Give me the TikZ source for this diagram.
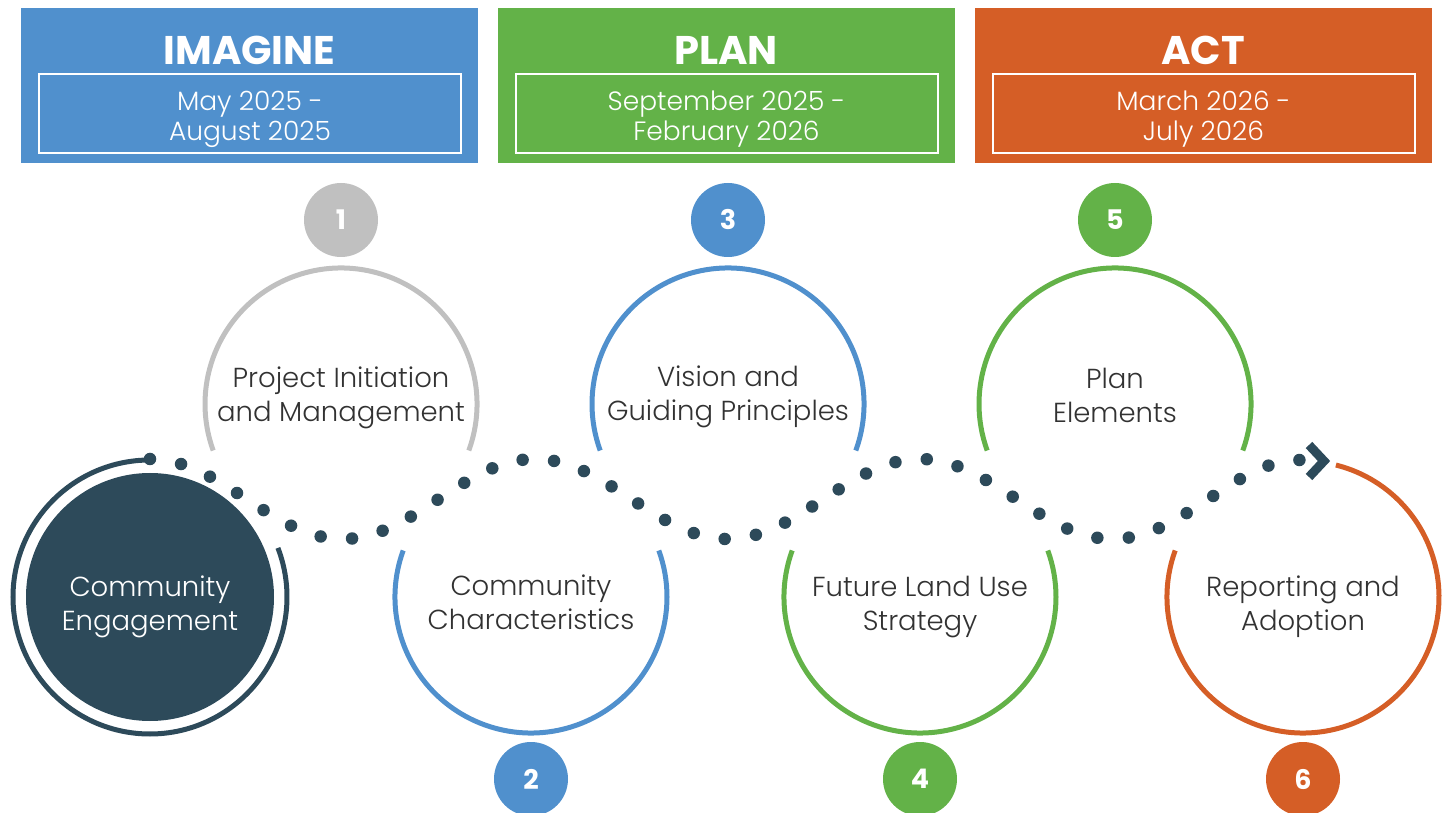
\documentclass[tikz,border=0pt]{standalone}
\usepackage{fontspec}
\setmainfont{Poppins}
\newfontfamily\lightfont{Poppins Light}
\definecolor{imagineblue}{RGB}{80,144,205}
\definecolor{plangreen}{RGB}{99,178,72}
\definecolor{actorange}{RGB}{213,94,38}
\definecolor{stepgray}{RGB}{192,192,192}
\definecolor{navy}{RGB}{45,74,90}
\definecolor{labelgray}{RGB}{50,50,50}
\tikzset{
  phasebox/.style={fill=#1, minimum width=457pt, minimum height=155pt, inner sep=0pt},
  phasetitle/.style={text=white, font=\bfseries\fontsize{40}{40}\selectfont},
  datebox/.style={draw=white, line width=2pt, minimum width=422pt, minimum height=79pt},
  datetext/.style={align=center, text=white, font=\lightfont\fontsize{26.5}{30}\selectfont},
  stepnum/.style={circle, fill=#1, minimum size=74pt, inner sep=0pt, text=white, font=\bfseries\fontsize{27}{27}\selectfont},
  steptext/.style={align=center, text=labelgray, font=\lightfont\fontsize{27.5}{34}\selectfont},
  ring/.style={draw=#1, line width=5pt},
}
\begin{document}
\begin{tikzpicture}[x=1pt,y=1pt]
\useasboundingbox (0,0) rectangle (1444,812);
% phase headers
\node[phasebox=imagineblue] (imagine) at (249.5,726.5) {};
\node[phasebox=plangreen] (plan) at (726,726.5) {};
\node[phasebox=actorange] (act) at (1203,726.5) {};
\node[phasetitle] (imaginetitle) at (249.5,762) {IMAGINE};
\node[phasetitle] (plantitle) at (726,762) {PLAN};
\node[phasetitle] (acttitle) at (1203,762) {ACT};
\node[datebox] (imaginebox) at (250,698.5) {};
\node[datebox] (planbox) at (726.5,698.5) {};
\node[datebox] (actbox) at (1203.5,698.5) {};
\node[datetext] (imaginedates) at (250,692.5) {May 2025 -\\August 2025};
\node[datetext] (plandates) at (726.5,692.5) {September 2025 -\\February 2026};
\node[datetext] (actdates) at (1203.5,692.5) {March 2026 -\\July 2026};
% ring centres
\coordinate (ring1) at (341,408);
\coordinate (ring2) at (531,215);
\coordinate (ring3) at (728,408);
\coordinate (ring4) at (920,215);
\coordinate (ring5) at (1115,408);
\coordinate (ring6) at (1303,215);
% open rings
\draw[ring=stepgray] ([shift={(-20:136)}]ring1) arc[start angle=-20, end angle=200, radius=136];
\draw[ring=imagineblue] ([shift={(160:136)}]ring2) arc[start angle=160, end angle=380, radius=136];
\draw[ring=imagineblue] ([shift={(-20:136)}]ring3) arc[start angle=-20, end angle=200, radius=136];
\draw[ring=plangreen] ([shift={(160:136)}]ring4) arc[start angle=160, end angle=380, radius=136];
\draw[ring=plangreen] ([shift={(-20:136)}]ring5) arc[start angle=-20, end angle=200, radius=136];
\draw[ring=actorange] ([shift={(160:136)}]ring6) arc[start angle=160, end angle=436, radius=136];
% community engagement
\node[circle, fill=navy, minimum size=248pt, inner sep=0pt] (engagement) at (150,215) {};
\draw[ring=navy] ([shift={(90:137)}]engagement.center) arc[start angle=90, end angle=381, radius=137];
\node[steptext, text=white] (engagementtext) at (150,205) {Community\\Engagement};
% step texts
\node[steptext] (initiation) at (341,414) {Project Initiation\\and Management};
\node[steptext] (characteristics) at (531,210) {Community\\Characteristics};
\node[steptext] (vision) at (728,415) {Vision and\\Guiding Principles};
\node[steptext] (landuse) at (920,205) {Future Land Use\\Strategy};
\node[steptext] (elements) at (1115,417) {Plan\\Elements};
\node[steptext] (reporting) at (1303,205) {Reporting and\\Adoption};
% step numbers
\node[stepnum=stepgray] (num1) at (341,592) {1};
\node[stepnum=imagineblue] (num2) at (531,33) {2};
\node[stepnum=imagineblue] (num3) at (728,592) {3};
\node[stepnum=plangreen] (num4) at (920,33) {4};
\node[stepnum=plangreen] (num5) at (1115,592) {5};
\node[stepnum=actorange] (num6) at (1303,33) {6};
% dotted wave
\coordinate (wavestart) at (150,353);
\draw[navy, line width=12.5pt, line cap=round, dash pattern=on 0pt off 31.6pt]
  (wavestart) cos (246.25,313) sin (342.5,273) cos (438.75,313) sin (535,353)
  cos (631.25,313) sin (727.5,273) cos (823.75,313) sin (920,353)
  cos (1016.25,313) sin (1112.5,273) cos (1208.75,313) sin (1300,352) coordinate (waveend);
\draw[navy, line width=9pt, line join=miter] (1309,367) -- (1324,351) -- (1309,335);
\end{tikzpicture}
\end{document}
